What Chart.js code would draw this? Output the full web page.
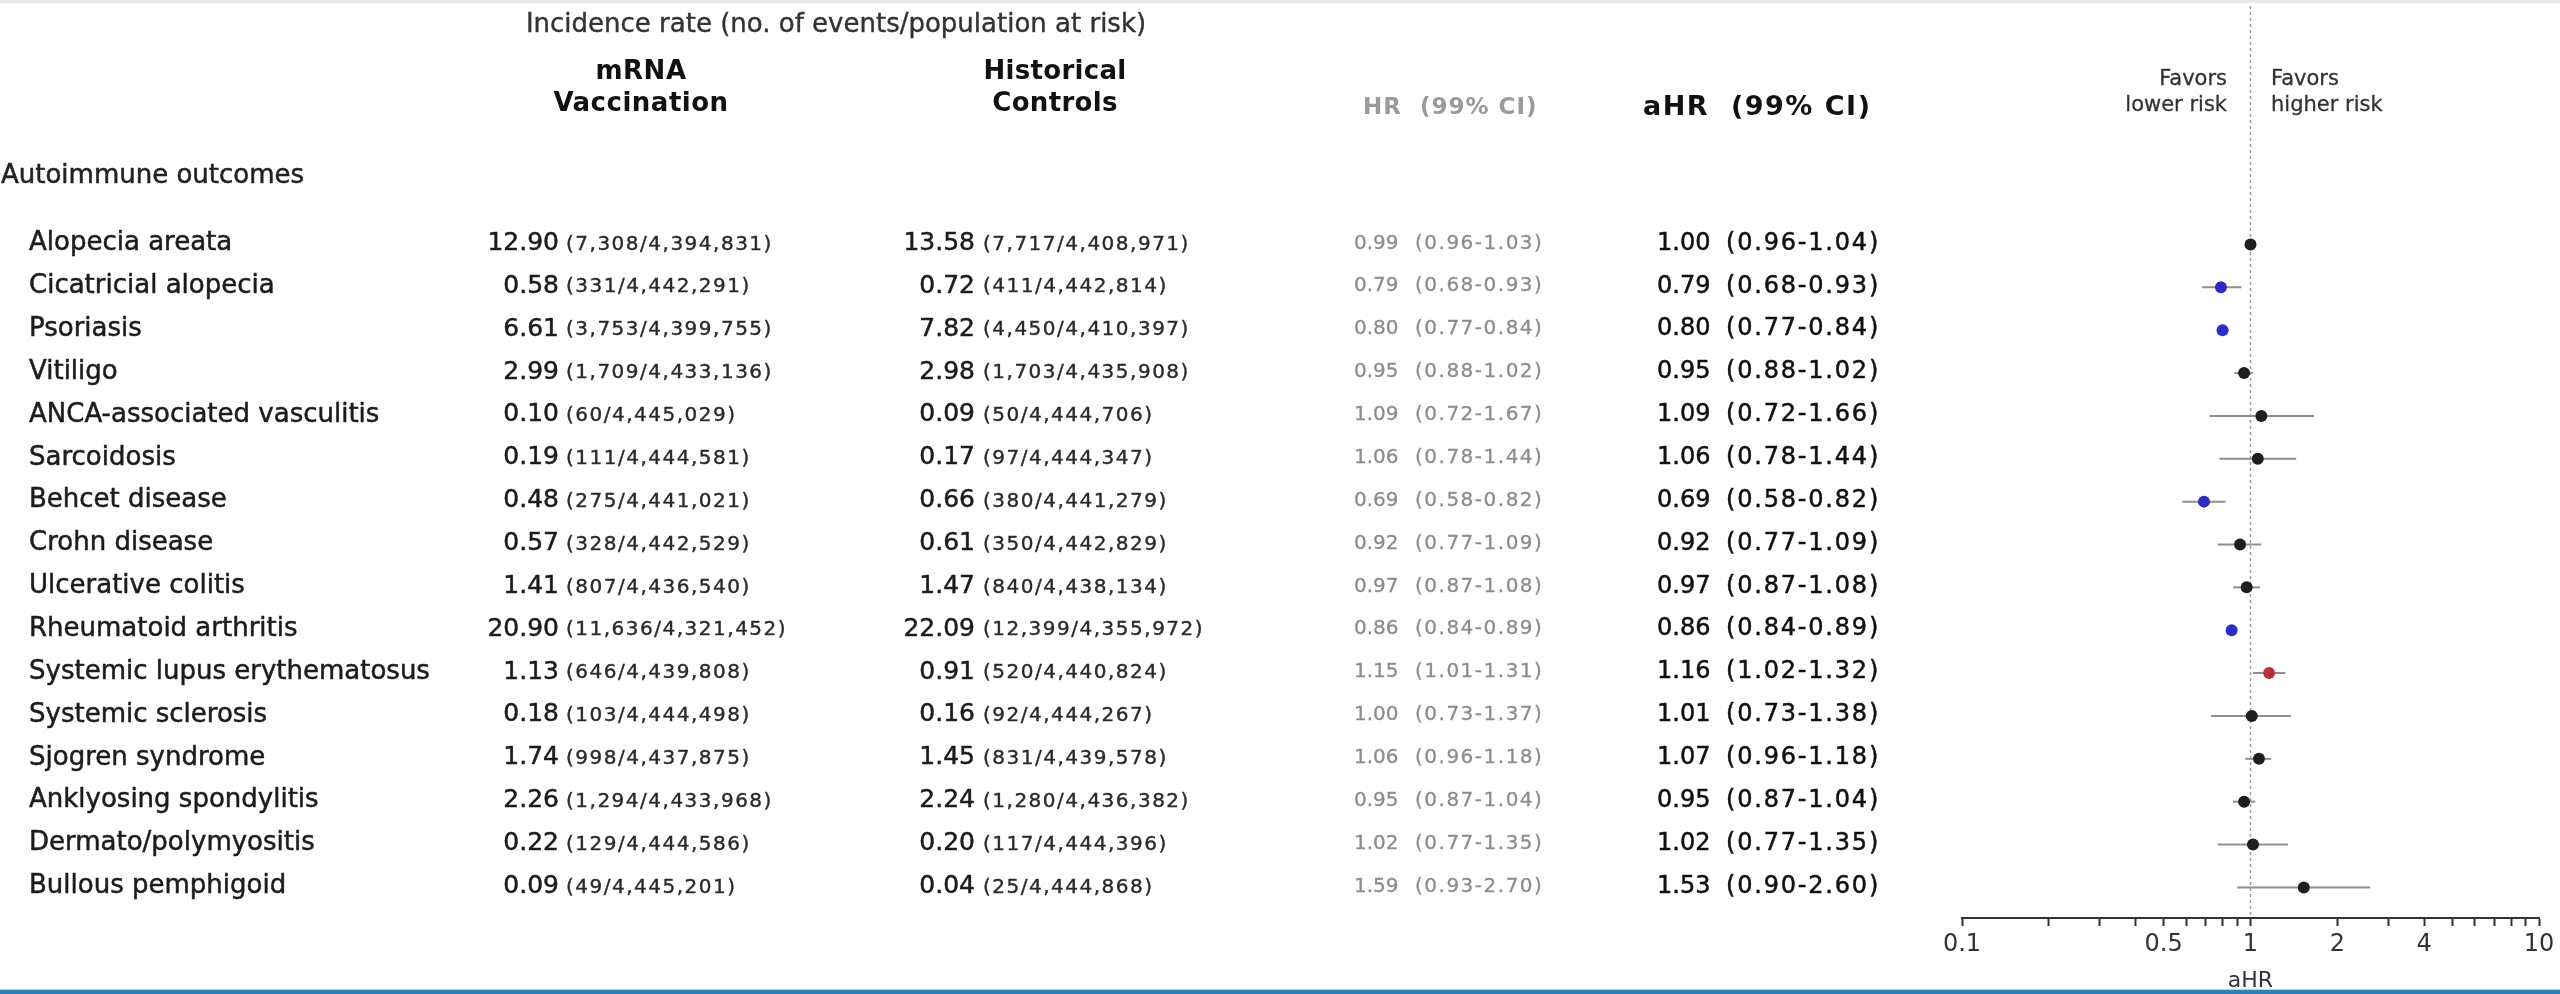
<!DOCTYPE html>
<html>
<head>
<meta charset="utf-8">
<title>Autoimmune outcomes after mRNA vaccination</title>
<script src="https://cdn.jsdelivr.net/npm/chart.js@4.4.1/dist/chart.umd.min.js"></script>
<style>
  html, body { margin: 0; padding: 0; background: #ffffff; }
  #wrap { position: relative; width: 2560px; height: 994px; overflow: hidden; background: #ffffff; }
  canvas { display: block; }
</style>
</head>
<body>
<div id="wrap"><canvas id="forest" width="2560" height="994"></canvas></div>
<script>
// Outcomes, top to bottom
const outcomes = [
  "Alopecia areata", "Cicatricial alopecia", "Psoriasis", "Vitiligo",
  "ANCA-associated vasculitis", "Sarcoidosis", "Behcet disease", "Crohn disease",
  "Ulcerative colitis", "Rheumatoid arthritis", "Systemic lupus erythematosus",
  "Systemic sclerosis", "Sjogren syndrome", "Anklyosing spondylitis",
  "Dermato/polymyositis", "Bullous pemphigoid"
];

// Incidence rate and events/population at risk, mRNA vaccination cohort
const vaxRate = [12.90, 0.58, 6.61, 2.99, 0.10, 0.19, 0.48, 0.57, 1.41, 20.90, 1.13, 0.18, 1.74, 2.26, 0.22, 0.09];
const vaxCounts = [
  "7,308/4,394,831", "331/4,442,291", "3,753/4,399,755", "1,709/4,433,136",
  "60/4,445,029", "111/4,444,581", "275/4,441,021", "328/4,442,529",
  "807/4,436,540", "11,636/4,321,452", "646/4,439,808", "103/4,444,498",
  "998/4,437,875", "1,294/4,433,968", "129/4,444,586", "49/4,445,201"
];

// Incidence rate and events/population at risk, historical controls
const ctrlRate = [13.58, 0.72, 7.82, 2.98, 0.09, 0.17, 0.66, 0.61, 1.47, 22.09, 0.91, 0.16, 1.45, 2.24, 0.20, 0.04];
const ctrlCounts = [
  "7,717/4,408,971", "411/4,442,814", "4,450/4,410,397", "1,703/4,435,908",
  "50/4,444,706", "97/4,444,347", "380/4,441,279", "350/4,442,829",
  "840/4,438,134", "12,399/4,355,972", "520/4,440,824", "92/4,444,267",
  "831/4,439,578", "1,280/4,436,382", "117/4,444,396", "25/4,444,868"
];

// Crude hazard ratios with 99% CI
const hr   = [0.99, 0.79, 0.80, 0.95, 1.09, 1.06, 0.69, 0.92, 0.97, 0.86, 1.15, 1.00, 1.06, 0.95, 1.02, 1.59];
const hrLo = [0.96, 0.68, 0.77, 0.88, 0.72, 0.78, 0.58, 0.77, 0.87, 0.84, 1.01, 0.73, 0.96, 0.87, 0.77, 0.93];
const hrHi = [1.03, 0.93, 0.84, 1.02, 1.67, 1.44, 0.82, 1.09, 1.08, 0.89, 1.31, 1.37, 1.18, 1.04, 1.35, 2.70];

// Adjusted hazard ratios with 99% CI (plotted)
const ahr   = [1.00, 0.79, 0.80, 0.95, 1.09, 1.06, 0.69, 0.92, 0.97, 0.86, 1.16, 1.01, 1.07, 0.95, 1.02, 1.53];
const ahrLo = [0.96, 0.68, 0.77, 0.88, 0.72, 0.78, 0.58, 0.77, 0.87, 0.84, 1.02, 0.73, 0.96, 0.87, 0.77, 0.90];
const ahrHi = [1.04, 0.93, 0.84, 1.02, 1.66, 1.44, 0.82, 1.09, 1.08, 0.89, 1.32, 1.38, 1.18, 1.04, 1.35, 2.60];

// Log axis ticks and the ones that carry a label
const axisTicks = [0.1, 0.2, 0.3, 0.4, 0.5, 0.6, 0.7, 0.8, 0.9, 1, 2, 3, 4, 5, 6, 7, 8, 9, 10];
const axisLabels = [0.1, 0.5, 1, 2, 4, 10];

const FONT = "'DejaVu Sans', Verdana, sans-serif";

// Colour by significance: CI entirely below 1 (blue), entirely above 1 (red)
const markerColors = ahr.map((v, i) =>
  ahrHi[i] < 1 ? '#2c2cc4' : (ahrLo[i] > 1 ? '#b8303a' : '#1e1e1e'));

function text(ctx, str, x, y, opt) {
  ctx.save();
  ctx.font = opt.font;
  ctx.fillStyle = opt.color || '#222';
  ctx.textAlign = opt.align || 'left';
  ctx.textBaseline = 'middle';
  if ('letterSpacing' in ctx) ctx.letterSpacing = (opt.spacing || 0) + 'px';
  ctx.fillText(str, x, y);
  if (opt.weight) {
    // slightly heavier strokes for the body text
    ctx.strokeStyle = opt.color || '#222';
    ctx.lineWidth = opt.weight;
    ctx.lineJoin = 'round';
    ctx.strokeText(str, x, y);
  }
  ctx.restore();
}

// Table columns and headers, positioned on the chart's own row scale
const tablePlugin = {
  id: 'forestTable',
  afterDraw(chart) {
    const ctx = chart.ctx;
    const ys = chart.scales.y;

    // page frame: thin band on top, blue rule at the bottom
    ctx.save();
    ctx.fillStyle = '#e9e9e9';
    ctx.fillRect(0, 0, 2560, 3);
    ctx.fillStyle = '#d0d0d0';
    ctx.fillRect(0, 989, 2560, 1);
    ctx.fillStyle = '#2f7fb6';
    ctx.fillRect(0, 990, 2560, 4);
    ctx.restore();

    text(ctx, 'Incidence rate (no. of events/population at risk)', 836, 25,
      { font: `26px ${FONT}`, color: '#333', align: 'center', weight: 0.4 });
    text(ctx, 'mRNA', 641, 72, { font: `bold 26px ${FONT}`, color: '#111', align: 'center', spacing: 0.5 });
    text(ctx, 'Vaccination', 641, 104, { font: `bold 26px ${FONT}`, color: '#111', align: 'center', spacing: 0.5 });
    text(ctx, 'Historical', 1055, 72, { font: `bold 26px ${FONT}`, color: '#111', align: 'center', spacing: 0.3 });
    text(ctx, 'Controls', 1055, 104, { font: `bold 26px ${FONT}`, color: '#111', align: 'center', spacing: 0.3 });
    text(ctx, 'HR  (99% CI)', 1363, 108, { font: `bold 23px ${FONT}`, color: '#9a9a9a', spacing: 1 });
    text(ctx, 'aHR  (99% CI)', 1643, 108, { font: `bold 27px ${FONT}`, color: '#111', spacing: 1.5 });

    text(ctx, 'Favors', 2227, 80, { font: `21px ${FONT}`, color: '#333', align: 'right', weight: 0.3 });
    text(ctx, 'lower risk', 2227, 106, { font: `21px ${FONT}`, color: '#333', align: 'right', weight: 0.3 });
    text(ctx, 'Favors', 2271, 80, { font: `21px ${FONT}`, color: '#333', weight: 0.3 });
    text(ctx, 'higher risk', 2271, 106, { font: `21px ${FONT}`, color: '#333', weight: 0.3 });

    text(ctx, 'Autoimmune outcomes', 1, 176, { font: `26px ${FONT}`, color: '#222', weight: 0.5 });

    outcomes.forEach((name, i) => {
      const y = ys.getPixelForValue(i) - 1;
      text(ctx, name, 29, y, { font: `26px ${FONT}`, color: '#1c1c1c', weight: 0.5 });

      text(ctx, vaxRate[i].toFixed(2), 559, y, { font: `25px ${FONT}`, color: '#1c1c1c', align: 'right', weight: 0.5 });
      text(ctx, '(' + vaxCounts[i] + ')', 566, y + 1, { font: `20px ${FONT}`, color: '#2a2a2a', spacing: 1.5, weight: 0.4 });

      text(ctx, ctrlRate[i].toFixed(2), 975, y, { font: `25px ${FONT}`, color: '#1c1c1c', align: 'right', weight: 0.5 });
      text(ctx, '(' + ctrlCounts[i] + ')', 983, y + 1, { font: `20px ${FONT}`, color: '#2a2a2a', spacing: 1.5, weight: 0.4 });

      text(ctx, hr[i].toFixed(2), 1354, y, { font: `20px ${FONT}`, color: '#8c8c8c', weight: 0.3 });
      text(ctx, '(' + hrLo[i].toFixed(2) + '-' + hrHi[i].toFixed(2) + ')', 1415, y,
        { font: `20px ${FONT}`, color: '#8c8c8c', spacing: 1.5, weight: 0.3 });

      text(ctx, ahr[i].toFixed(2), 1657, y, { font: `24px ${FONT}`, color: '#111', weight: 0.5 });
      text(ctx, '(' + ahrLo[i].toFixed(2) + '-' + ahrHi[i].toFixed(2) + ')', 1726, y,
        { font: `24px ${FONT}`, color: '#111', spacing: 1.8, weight: 0.5 });
    });
  }
};

// Reference line at aHR = 1 and the CI whiskers, drawn on the chart scales
const whiskerPlugin = {
  id: 'whiskers',
  beforeDatasetsDraw(chart) {
    const ctx = chart.ctx;
    const xs = chart.scales.x, ys = chart.scales.y;
    ctx.save();
    const x1 = xs.getPixelForValue(1);
    ctx.strokeStyle = '#9e9e9e';
    ctx.lineWidth = 1.5;
    ctx.setLineDash([3, 3]);
    ctx.beginPath();
    ctx.moveTo(x1, 0);
    ctx.lineTo(x1, chart.chartArea.bottom);
    ctx.stroke();
    ctx.setLineDash([]);
    ctx.strokeStyle = '#8f8f8f';
    ctx.lineWidth = 2;
    ahr.forEach((v, i) => {
      const y = ys.getPixelForValue(i);
      ctx.beginPath();
      ctx.moveTo(xs.getPixelForValue(ahrLo[i]), y);
      ctx.lineTo(xs.getPixelForValue(ahrHi[i]), y);
      ctx.stroke();
    });
    ctx.restore();
  }
};

new Chart(document.getElementById('forest'), {
  type: 'scatter',
  data: {
    datasets: [{
      label: 'aHR',
      data: ahr.map((v, i) => ({ x: v, y: i })),
      pointRadius: 6,
      pointHoverRadius: 6,
      pointBackgroundColor: markerColors,
      pointBorderColor: markerColors,
      pointBorderWidth: 0
    }]
  },
  options: {
    responsive: false,
    devicePixelRatio: 1,
    animation: false,
    events: [],
    layout: { padding: { left: 1962, right: 21, top: 0, bottom: 0 } },
    plugins: { legend: { display: false }, tooltip: { enabled: false } },
    scales: {
      x: {
        type: 'logarithmic',
        position: 'bottom',
        min: 0.1,
        max: 10,
        afterBuildTicks(scale) {
          scale.ticks = axisTicks.map(v => ({ value: v }));
        },
        afterFit(scale) { scale.height = 76; },
        ticks: {
          autoSkip: false,
          maxRotation: 0,
          padding: 4,
          color: '#333',
          font: { family: FONT, size: 24 },
          callback(value) {
            return axisLabels.includes(value) ? String(value) : '';
          }
        },
        grid: {
          drawOnChartArea: false,
          drawTicks: true,
          tickLength: 8,
          tickColor: '#333',
          tickWidth: 2
        },
        border: { display: true, color: '#333', width: 2 },
        title: {
          display: true,
          text: 'aHR',
          color: '#333',
          font: { family: FONT, size: 22 },
          padding: { top: 0, bottom: 0 }
        }
      },
      y: {
        type: 'linear',
        reverse: true,
        min: -5.562,
        max: 15.713,
        display: false
      }
    }
  },
  plugins: [whiskerPlugin, tablePlugin]
});
</script>
</body>
</html>
